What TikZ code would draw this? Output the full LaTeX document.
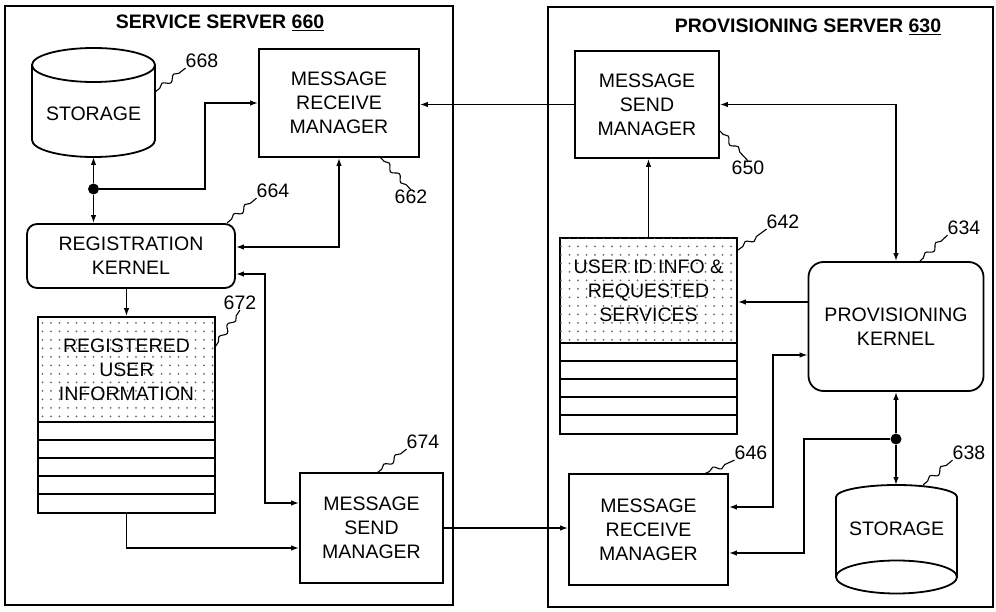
\documentclass[tikz,border=0pt]{standalone}
\usepackage{fontspec}
\setmainfont{Liberation Sans}
\usetikzlibrary{arrows.meta,calc,patterns.meta,decorations.pathmorphing}
\begin{document}
\begin{tikzpicture}[x=1pt,y=-1pt,
  every node/.style={font=\fontsize{19.5}{24}\selectfont, inner sep=0pt, align=center},
  frame/.style={draw, line width=1.7pt},
  box/.style={draw, line width=1.8pt},
  rbox/.style={box, rounded corners=#1},
  row/.style={line width=1.4pt},
  conn/.style={line width=1.4pt, -{Latex[length=8pt,width=5.5pt]}},
  bconn/.style={line width=1.4pt, {Latex[length=8pt,width=5.5pt]}-{Latex[length=8pt,width=5.5pt]}},
  leader/.style={line width=1.1pt, decorate, decoration={snake, amplitude=2.6pt, segment length=15pt, pre length=6pt, post length=5pt}},
  junc/.style={circle, fill, minimum size=11pt},
  dotsfill/.style={pattern={Dots[distance=8.5pt, radius=1pt]}, pattern color=black!60}
]
\useasboundingbox (0,0) rectangle (996,612);

% ---------- server frames ----------
\node[frame, minimum width=448, minimum height=599] (ss) at (229,305.5) {};
\node[frame, minimum width=445, minimum height=600] (ps) at (770.5,307) {};
\node (ssT) at (220,23) {\bfseries SERVICE SERVER \underline{660}};
\node (psT) at (808,27) {\bfseries PROVISIONING SERVER \underline{630}};

% ---------- service server ----------
% storage 668
\node (st1) at (93.5,114) {STORAGE};
\draw[box] (32,65) -- (32,140) .. controls (32,149.4) and (59.5,157) .. (93.5,157)
  .. controls (127.5,157) and (155,149.4) .. (155,140) -- (155,65);
\draw[box] (93.5,65) ellipse [x radius=61.5, y radius=17];
\coordinate (st1b) at (93.5,157);
\coordinate (st1r) at (155,92);

\node[box, minimum width=160, minimum height=108] (mrm1) at (339,103) {MESSAGE\\RECEIVE\\MANAGER};
\node[rbox=10pt, minimum width=208, minimum height=64] (rk) at (131,256) {REGISTRATION\\KERNEL};

% registered user information 672
\node[box, minimum width=177, minimum height=196] (ruit) at (126.5,415) {};
\fill[dotsfill] ($(ruit.north west)+(1,1)$) rectangle ($(ruit.north east)+(-1,106)$);
\foreach \k in {0,...,4} \draw[row] ($(ruit.north west)+(0,106+18*\k)$) -- ++(177,0);
\node (ruiTxt) at (126.5,370) {REGISTERED\\USER\\INFORMATION};

\node[box, minimum width=143, minimum height=110] (msm1) at (371.5,528) {MESSAGE\\SEND\\MANAGER};

% ---------- provisioning server ----------
\node[box, minimum width=144, minimum height=107] (msm2) at (647,104.5) {MESSAGE\\SEND\\MANAGER};

\node[box, minimum width=177, minimum height=196] (uirt) at (648.5,336) {};
\fill[dotsfill] ($(uirt.north west)+(1,1)$) rectangle ($(uirt.north east)+(-1,106)$);
\foreach \k in {0,...,4} \draw[row] ($(uirt.north west)+(0,106+18*\k)$) -- ++(177,0);
\node (uirTxt) at (648.5,291) {USER ID INFO \&\\REQUESTED\\SERVICES};

\node[rbox=15pt, minimum width=175, minimum height=129] (pk) at (896,326.5) {PROVISIONING\\KERNEL};
\node[box, minimum width=159, minimum height=111] (mrm2) at (648.5,529.5) {MESSAGE\\RECEIVE\\MANAGER};

% storage 638
\node (st2) at (896.5,529) {STORAGE};
\draw[box] (836,577) -- (836,497) .. controls (836,490.4) and (863.1,485) .. (896.5,485)
  .. controls (929.9,485) and (957,490.4) .. (957,497) -- (957,577);
\draw[box] (896.5,577) ellipse [x radius=60.5, y radius=16.5];
\coordinate (st2t) at (896,485);

% ---------- connectors: service server ----------
\node[junc] (j1) at (93.5,189) {};
\draw[conn] (j1) -- (st1b);
\draw[conn] (j1) -- (j1 |- rk.north);
\coordinate (c1) at (205,103);
\draw[conn] (j1) -| (c1) -- (mrm1.west);
\coordinate (rkE1) at ($(rk.east)+(0,-9)$);
\draw[bconn] (mrm1.south) |- (rkE1);
\coordinate (rkE2) at ($(rk.east)+(0,18)$);
\coordinate (c2) at (265,503);
\draw[bconn] (rkE2) -| (c2) -- (c2 -| msm1.west);
\draw[conn] (ruit.north |- rk.south) -- (ruit.north);
\coordinate (msmW2) at ($(msm1.west)+(0,20)$);
\draw[conn] (ruit.south) |- (msmW2);

% between servers
\draw[conn] (msm1.east) -- (msm1.east -| mrm2.west);
\draw[conn] (msm2.west) -- (msm2.west -| mrm1.east);

% ---------- connectors: provisioning server ----------
\draw[conn] (uirt.north) -- (uirt.north |- msm2.south);
\draw[bconn] (msm2.east) -| (pk.north);
\coordinate (c3) at ($(pk.west)+(0,-24.5)$);
\draw[conn] (c3) -- (c3 -| uirt.east);
\coordinate (mrmE1) at ($(mrm2.east)+(0,-22.5)$);
\coordinate (c4) at (773,355);
\draw[bconn] (mrmE1) -| (c4) -- (c4 -| pk.west);
\node[junc] (j2) at (896,439) {};
\draw[conn] (j2) -- (pk.south);
\draw[conn] (j2) -- (st2t);
\coordinate (c5) at (804,439);
\coordinate (mrmE2) at ($(mrm2.east)+(0,23.5)$);
\draw[conn] (j2) -- (c5) |- (mrmE2);

% ---------- reference numerals ----------
\node (l668) at (202,61) {668};
\node (l662) at (411,197) {662};
\node (l664) at (273,191) {664};
\node (l672) at (240,303) {672};
\node (l674) at (423,442) {674};
\node (l650) at (748,168) {650};
\node (l642) at (783,222) {642};
\node (l634) at (964,228) {634};
\node (l646) at (751,453) {646};
\node (l638) at (969,453) {638};

\draw[leader] (st1r) -- (l668.south west);
\draw[leader] (380,157) -- (l662.north);
\draw[leader] (227,223) -- (l664.south west);
\draw[leader] (215,347) -- (l672.south);
\draw[leader] (377,473) -- (l674.south west);
\draw[leader] (719,130) -- (l650.north);
\draw[leader] (738,250) -- (l642.south west);
\draw[leader] (919,262) -- (l634.south west);
\draw[leader] (704,474) -- (l646.south west);
\draw[leader] (923,485) -- (l638.south west);
\end{tikzpicture}
\end{document}
